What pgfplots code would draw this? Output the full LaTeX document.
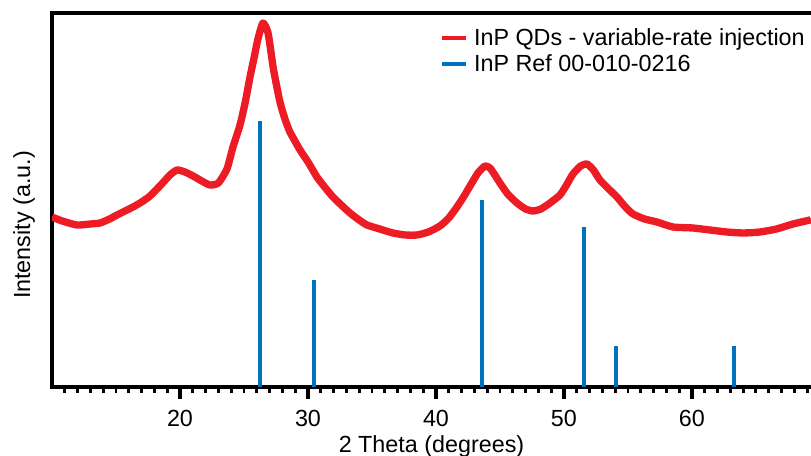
\documentclass[border=0pt]{standalone}
\usepackage{pgfplots}
\pgfplotsset{compat=1.18}
\usepackage{fontspec}
\setmainfont{Liberation Sans}
\usetikzlibrary{calc}
\definecolor{myred}{RGB}{237,28,36}
\definecolor{myblue}{RGB}{0,114,189}
\newcommand{\bigf}{\fontsize{17.5}{21}\selectfont}
\begin{document}
\begin{tikzpicture}
\begin{axis}[
  scale only axis,
  width=569.25pt, height=280.5pt,
  xmin=10, xmax=69.3, ymin=0, ymax=374,
  axis x line=box, axis y line=left,
  axis line style={line width=2.8pt,-,line cap=rect},
  xtick={20,30,40,50,60},
  minor xtick={11,...,69},
  ytick=\empty,
  xtick pos=bottom,
  tick align=outside,
  major tick length=9.3pt,
  minor tick length=4.3pt,
  every major tick/.style={line width=3pt,black},
  every minor tick/.style={line width=2.2pt,black},
  /pgf/number format/assume math mode=true,
  ticklabel style={font=\bigf},
  xticklabel style={yshift=-4.5pt},
  label style={font=\bigf},
  xlabel={2 Theta (degrees)},
  ylabel={Intensity (a.u.)},
  ylabel style={at={(ticklabel cs:0.433)}},
  legend style={draw=none, fill=none, at={(1,0.958)}, anchor=north east, font=\bigf, inner sep=0pt, row sep=4.75pt, nodes={inner xsep=4.5pt, inner ysep=0pt}},
  legend cell align=left,
  legend image code/.code={\draw[#1, line width=3pt] (0pt,0pt) -- (18pt,0pt);},
]
\addplot[myred, line width=5.5pt, line join=round, smooth, tension=0.35] coordinates {
(10.0,170) (10.8,166) (11.95,162) (13.0,163) (13.75,164) (14.5,168) (15.08,172)
(16.33,180) (17.0,185) (17.66,191) (18.5,202) (19.22,212) (19.77,217) (20.39,215)
(21.02,211) (21.7,206) (22.34,202) (23.0,204) (23.67,218) (24.14,240) (24.69,262)
(25.1,285) (25.47,310) (25.8,330) (26.09,348) (26.48,364) (26.88,354) (27.3,318)
(27.81,285) (28.2,268) (28.59,255) (29.38,237) (30.0,225) (30.70,210) (31.3,200)
(31.95,190) (32.6,182) (33.28,174) (34.0,167) (34.61,162) (35.6,158) (36.64,154)
(37.6,152) (38.52,152) (39.4,155) (40.31,161) (41.0,169) (41.64,180) (42.2,191)
(42.66,201) (43.28,214) (43.83,221) (44.22,219) (44.6,212) (45.0,204) (45.6,193)
(46.33,184) (47.0,178) (47.58,176) (48.2,178) (48.91,184) (49.69,192) (50.2,202)
(50.70,213) (51.3,221) (51.80,223) (52.3,217) (52.81,207) (53.5,198) (54.14,190)
(54.8,180) (55.39,173) (56.3,168) (57.27,165) (58.52,160) (60.08,159) (61.4,157)
(62.73,155) (64.0,154) (65.31,155) (66.6,158) (67.89,163) (69.22,167) (69.3,168)
};
\addlegendentry{InP QDs - variable-rate injection}
\addplot[myblue, line width=3pt, ycomb, forget plot] coordinates {
(26.28,266) (30.44,107) (43.58,187) (51.6,160) (54.05,41) (63.3,41)
};
\addlegendimage{myblue, line width=3pt}
\addlegendentry{InP Ref 00-010-0216}
\end{axis}
\pgfresetboundingbox
\path[use as bounding box] ($(current axis.south west)+(-39pt,-51.75pt)$) rectangle ($(current axis.north east)+(0pt,9.75pt)$);
\end{tikzpicture}
\end{document}
